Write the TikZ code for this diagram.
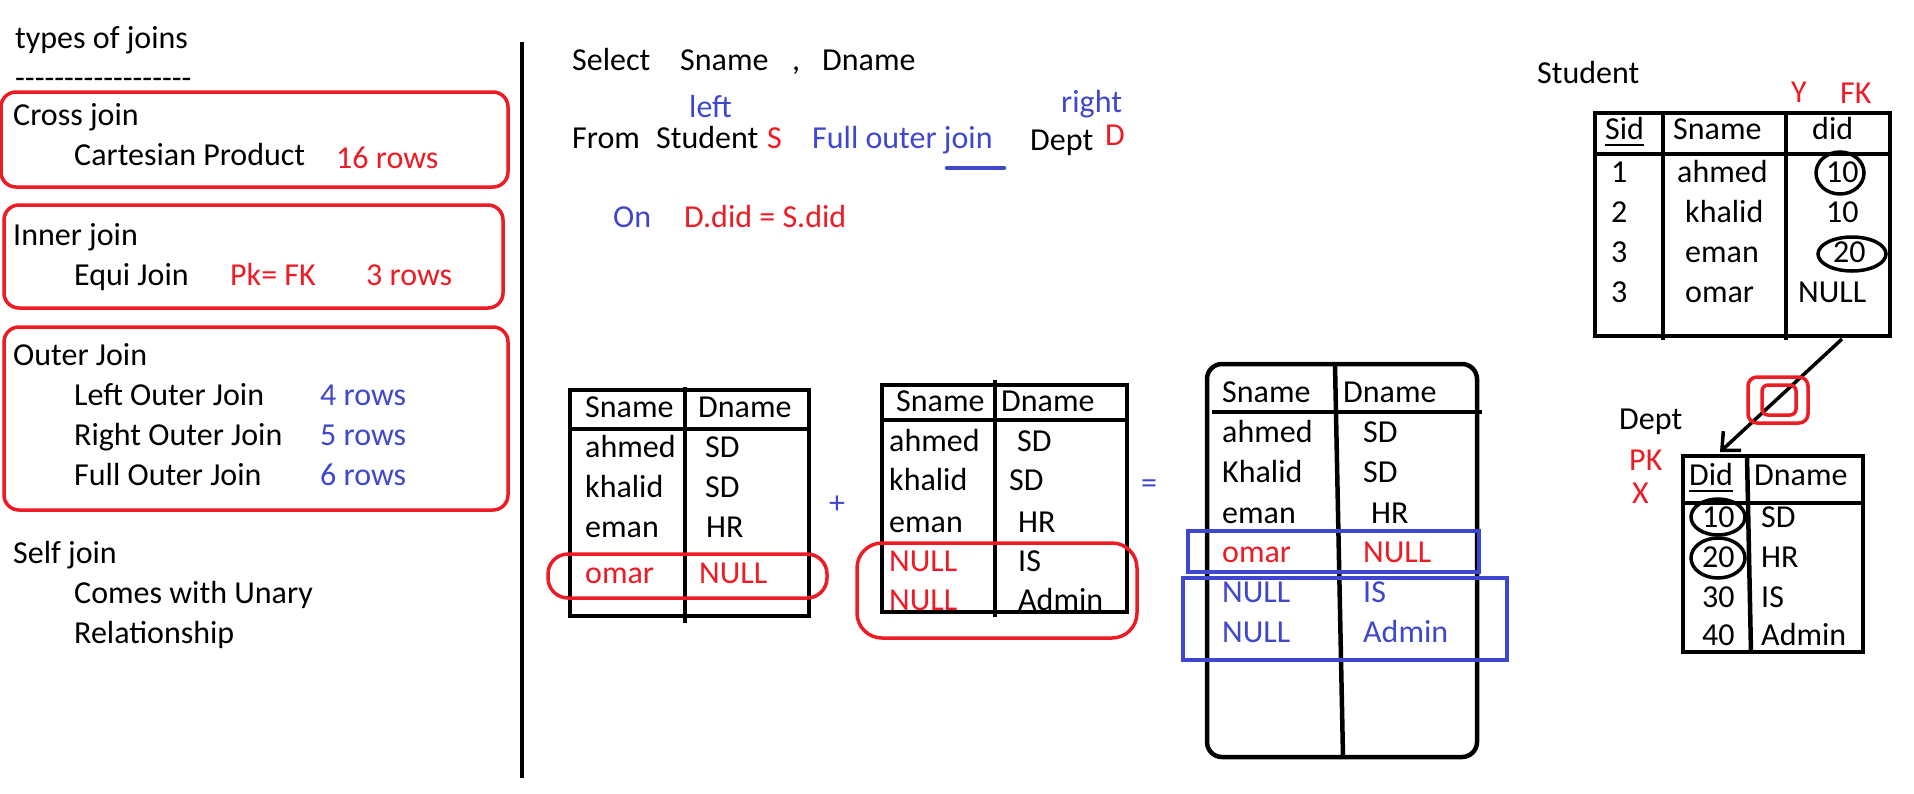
\documentclass[tikz,border=0pt]{standalone}
\usepackage{fontspec}
\setmainfont{Carlito}
\usetikzlibrary{arrows.meta}
\definecolor{pred}{HTML}{ED1C24}
\definecolor{pblue}{HTML}{3F48CC}
\newcommand{\bigfont}{\fontsize{32}{38}\selectfont}

\begin{document}
\begin{tikzpicture}[x=1pt, y=-1pt,
    every node/.style={font=\bigfont, inner sep=0pt, anchor=base west},
    redtxt/.style={text=pred}, bluetxt/.style={text=pblue},
    groupbox/.style={draw=pred, line width=3.5pt, rounded corners=15pt},
    tblline/.style={line width=4.5pt},
    markbox/.style={draw=pblue, line width=4pt},
    ring/.style={line width=3.5pt}]
  \useasboundingbox (0,0) rectangle (1914,793);

  % types of joins
  \node (title) at (15,48) {types of joins};
  \node (dashes) at (15,88) {-{}-{}-{}-{}-{}-{}-{}-{}-{}-{}-{}-{}-{}-{}-{}-{}-{}-{}};
  \draw[groupbox] (1,92) rectangle (508,187);
  \draw[groupbox] (4,205) rectangle (503,308);
  \draw[groupbox] (4,327) rectangle (508,510);
  \node (cross) at (13,125) {Cross join};
  \node (cart) at (74,165) {Cartesian Product};
  \node[redtxt] (cartrows) at (336,168) {16 rows};
  \node (inner) at (13,245) {Inner join};
  \node (equi) at (74,285) {Equi Join};
  \node[redtxt] (pkfk) at (230,285) {Pk= FK};
  \node[redtxt] (equirows) at (366,285) {3 rows};
  \node (outer) at (13,365) {Outer Join};
  \node (loj) at (74,405) {Left Outer Join};
  \node[bluetxt] (lojrows) at (320,405) {4 rows};
  \node (roj) at (74,445) {Right Outer Join};
  \node[bluetxt] (rojrows) at (320,445) {5 rows};
  \node (foj) at (74,485) {Full Outer Join};
  \node[bluetxt] (fojrows) at (320,485) {6 rows};
  \node (self) at (13,563) {Self join};
  \node (unary) at (74,603) {Comes with Unary};
  \node (rel) at (74,643) {Relationship};

  \draw[line width=4pt] (522,42) -- (522,778);

  % query
  \node (select) at (572,70) {Select};
  \node (qsname) at (680,70) {Sname};
  \node (comma) at (792,70) {,};
  \node (qdname) at (822,70) {Dname};
  \node[bluetxt] (left) at (689,117) {left};
  \node[bluetxt] (right) at (1061,112) {right};
  \node (from) at (572,148) {From};
  \node (student) at (656,148) {Student};
  \node[redtxt] (alias s) at (767,148) {S};
  \node[bluetxt] (full) at (812,148) {Full outer join};
  \node (dept) at (1030,150) {Dept};
  \node[redtxt] (alias d) at (1105,145) {D};
  \draw[pblue, line width=4.5pt, line cap=round] (947,168) -- (1004,168);
  \node[bluetxt] (on) at (613,227) {On};
  \node[redtxt] (cond) at (684,227) {D.did = S.did};

  % left part
  \draw[tblline] (570,390) rectangle (809,616);
  \draw[tblline] (570,429) -- (809,429);
  \draw[tblline] (685,387) -- (685,623);
  \node (ah1) at (585,417) {Sname};
  \node (ah2) at (698,417) {Dname};
  \foreach \n/\d/\dx/\y [count=\i] in {ahmed/SD/705/457, khalid/SD/705/497, eman/HR/706/537}{
    \node (an\i) at (585,\y) {\n};
    \node (ad\i) at (\dx,\y) {\d};
  }
  \node[redtxt] (an4) at (585,583) {omar};
  \node[redtxt] (ad4) at (699,583) {NULL};
  \draw[draw=pred, line width=3.5pt, rounded corners=20pt] (548,554) rectangle (827,598);

  \node[bluetxt] (plus) at (829,513) {+};

  % right part
  \draw[tblline] (882,385) rectangle (1127,612);
  \draw[tblline] (882,420) -- (1127,420);
  \draw[tblline] (995,380) -- (995,617);
  \node (bh1) at (896,411) {Sname};
  \node (bh2) at (1001,411) {Dname};
  \foreach \n/\d/\dx/\y [count=\i] in {ahmed/SD/1017/451, khalid/SD/1009/490, eman/HR/1018/532}{
    \node (bn\i) at (889,\y) {\n};
    \node (bd\i) at (\dx,\y) {\d};
  }
  \node[redtxt] (bn4) at (889,571) {NULL};
  \node (bd4) at (1018,571) {IS};
  \node[redtxt] (bn5) at (889,610) {NULL};
  \node (bd5) at (1018,610) {Admin};
  \draw[draw=pred, line width=3.5pt, rounded corners=25pt] (857,543) rectangle (1137,638);

  \node[bluetxt] (equals) at (1141,493) {=};

  % full outer join result
  \draw[tblline, rounded corners=15pt] (1207,364) rectangle (1477,757);
  \draw[tblline] (1212,412) -- (1482,412);
  \draw[tblline] (1335,365) -- (1343,757);
  \node (ch1) at (1222,402) {Sname};
  \node (ch2) at (1343,402) {Dname};
  \foreach \n/\d/\dx/\y [count=\i] in {ahmed/SD/1363/442, Khalid/SD/1363/482, eman/HR/1371/523}{
    \node (cn\i) at (1222,\y) {\n};
    \node (cd\i) at (\dx,\y) {\d};
  }
  \node[redtxt] (cn4) at (1222,562) {omar};
  \node[redtxt] (cd4) at (1363,562) {NULL};
  \node[bluetxt] (cn5) at (1222,602) {NULL};
  \node[bluetxt] (cd5) at (1363,602) {IS};
  \node[bluetxt] (cn6) at (1222,642) {NULL};
  \node[bluetxt] (cd6) at (1363,642) {Admin};
  \draw[markbox] (1188,531) rectangle (1479,572);
  \draw[markbox] (1183,578) rectangle (1507,660);

  % Student table
  \node (studentlbl) at (1537,83) {Student};
  \node[redtxt] (ymark) at (1791,102) {Y};
  \node[redtxt] (fk) at (1840,103) {FK};
  \draw[tblline] (1595,113) rectangle (1890,336);
  \draw[tblline] (1595,154) -- (1890,154);
  \draw[tblline] (1663,113) -- (1663,340);
  \draw[tblline] (1786,113) -- (1786,340);
  \node (sidh) at (1605,139) {Sid};
  \draw[line width=2.5pt] ([yshift=-6pt]sidh.base west) -- ([yshift=-6pt]sidh.base east);
  \node (snameh) at (1673,139) {Sname};
  \node (didh) at (1812,139) {did};
  \foreach \sid/\sn/\sx/\did/\dx/\y [count=\i] in {1/ahmed/1677/10/1826/182, 2/khalid/1685/10/1826/222, 3/eman/1685/20/1833/262, 3/omar/1685/NULL/1798/302}{
    \node (sid\i) at (1611,\y) {\sid};
    \node (sname\i) at (\sx,\y) {\sn};
    \node (did\i) at (\dx,\y) {\did};
  }
  \draw[ring] (1840,173) ellipse [x radius=24pt, y radius=21pt];
  \draw[ring] (1852,254) ellipse [x radius=34pt, y radius=17pt];

  % FK -> PK
  \coordinate (fkfoot) at (1842,339);
  \coordinate (pkhead) at (1720,452);
  \draw[line width=3.5pt, -{Straight Barb[length=14pt, width=26pt, line width=3.5pt]}] (fkfoot) -- (pkhead);
  \draw[draw=pred, line width=3.5pt, rounded corners=9pt] (1748,377) rectangle (1808,423);
  \draw[draw=pred, line width=3.5pt, rounded corners=6pt] (1762,385) rectangle (1796,415);

  % Dept table
  \node (deptlbl) at (1619,429) {Dept};
  \node[redtxt] (pk) at (1629,470) {PK};
  \node[redtxt] (xmark) at (1632,503) {X};
  \draw[tblline] (1683,456) rectangle (1863,652);
  \draw[tblline] (1683,503) -- (1863,503);
  \draw[tblline] (1747,456) -- (1751,653);
  \node (didhd) at (1689,485) {Did};
  \draw[line width=2.5pt] ([yshift=-6pt]didhd.base west) -- ([yshift=-6pt]didhd.base east);
  \node (dnamehd) at (1754,485) {Dname};
  \foreach \did/\dn/\y [count=\i] in {10/SD/527, 20/HR/567, 30/IS/607, 40/Admin/645}{
    \node (pid\i) at (1702,\y) {\did};
    \node (pname\i) at (1761,\y) {\dn};
  }
  \draw[ring] (1718,517) ellipse [x radius=27pt, y radius=18pt];
  \draw[ring] (1718,558) ellipse [x radius=27pt, y radius=20pt];
\end{tikzpicture}
\end{document}
